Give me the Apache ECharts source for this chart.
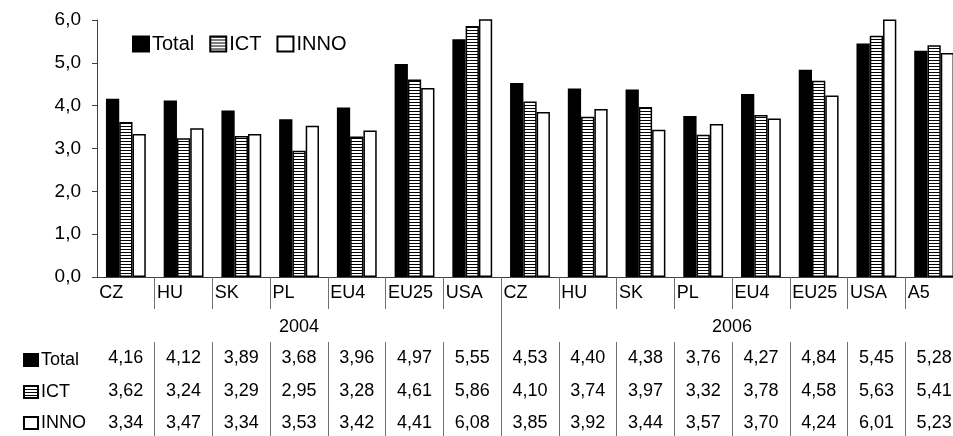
<!DOCTYPE html>
<html>
<head>
<meta charset="utf-8">
<script src="https://cdn.jsdelivr.net/npm/echarts@6/dist/echarts.min.js"></script>
<style>
  html, body { margin: 0; padding: 0; background: #fff; }
  #chart { width: 953px; height: 436px; }
</style>
</head>
<body>
<div id="chart"></div>
<script>
// data
const categories = ['CZ', 'HU', 'SK', 'PL', 'EU4', 'EU25', 'USA', 'CZ', 'HU', 'SK', 'PL', 'EU4', 'EU25', 'USA', 'A5'];
const years = ['2004', '2006'];
const yearSplitIdx = 7;
const seriesNames = ['Total', 'ICT', 'INNO'];
const totalVals = [4.16, 4.12, 3.89, 3.68, 3.96, 4.97, 5.55, 4.53, 4.40, 4.38, 3.76, 4.27, 4.84, 5.45, 5.28];
const ictVals = [3.62, 3.24, 3.29, 2.95, 3.28, 4.61, 5.86, 4.10, 3.74, 3.97, 3.32, 3.78, 4.58, 5.63, 5.41];
const innoVals = [3.34, 3.47, 3.34, 3.53, 3.42, 4.41, 6.08, 3.85, 3.92, 3.44, 3.57, 3.70, 4.24, 6.01, 5.23];

const FONT = '"Liberation Sans", Arial, sans-serif';
const fmt = (v, d) => Number(v).toFixed(d).replace('.', ',');

// year labels sit in the middle of their span of categories
const yearMid = [yearSplitIdx / 2, (yearSplitIdx + categories.length) / 2];

// horizontal stripes for ICT
const stripe = document.createElement('canvas');
stripe.width = 4;
stripe.height = 3;
const sctx = stripe.getContext('2d');
sctx.fillStyle = '#fff';
sctx.fillRect(0, 0, 4, 3);
sctx.fillStyle = '#000';
sctx.fillRect(0, 0, 4, 1);

const chart = echarts.init(document.getElementById('chart'));

// one axis for each row of the data table
function tableAxis(vals, margin, ticks) {
  return {
    type: 'category',
    data: categories,
    position: 'bottom',
    offset: 65,
    axisLine: { show: false, onZero: false },
    axisTick: { show: ticks, length: 95, interval: (i) => i > 0, lineStyle: { color: '#707070' } },
    axisLabel: {
      interval: 0, margin: margin, color: '#000', fontSize: 18, fontFamily: FONT,
      formatter: (v, i) => fmt(vals[i], 2)
    }
  };
}

function rowLegend(name, top) {
  return {
    data: [name], left: 18, top: top, icon: 'rect',
    itemWidth: 14, itemHeight: 12, itemGap: 0,
    selectedMode: false,
    textStyle: { fontSize: 18, fontFamily: FONT, color: '#000', padding: [0, 0, 0, -2] }
  };
}

const option = {
  animation: false,
  backgroundColor: '#fff',
  grid: { left: 97, right: -10, top: 20, bottom: 159, outerBoundsMode: 'none' },
  legend: [
    {
      data: seriesNames, left: 127, top: 29, icon: 'rect',
      itemWidth: 16, itemHeight: 15, itemGap: 15, selectedMode: false,
      textStyle: { fontSize: 20, fontFamily: FONT, color: '#000', padding: [0, 0, 0, -2] }
    },
    rowLegend('Total', 346),
    rowLegend('ICT', 378),
    rowLegend('INNO', 409)
  ],
  xAxis: [
    {
      type: 'category',
      data: categories,
      position: 'bottom',
      offset: 0.01,
      axisLine: { onZero: false, lineStyle: { color: '#404040', width: 1 } },
      axisTick: { show: true, length: 32, interval: (i) => i > 0, lineStyle: { color: '#707070' } },
      axisLabel: {
        interval: 0, margin: 7, color: '#000', fontSize: 18, fontFamily: FONT,
        formatter: (v) => '{a|' + v + '}',
        rich: { a: { width: 53, align: 'left', fontSize: 18, fontFamily: FONT, color: '#000' } }
      }
    },
    {
      // year row, on a 0..15 scale so the split line and labels can sit between categories
      type: 'value',
      min: 0,
      max: categories.length,
      position: 'bottom',
      offset: 0.01,
      splitLine: { show: false },
      axisLine: { show: false, onZero: false },
      axisTick: { show: true, length: 160, customValues: [yearSplitIdx], lineStyle: { color: '#707070' } },
      axisLabel: {
        customValues: yearMid,
        margin: 41, color: '#000', fontSize: 18, fontFamily: FONT,
        formatter: (v) => {
          const k = yearMid.indexOf(v);
          return k < 0 ? '' : years[k];
        }
      }
    },
    tableAxis(totalVals, 7, true),
    tableAxis(ictVals, 40, false),
    tableAxis(innoVals, 72, false)
  ],
  yAxis: {
    type: 'value',
    min: 0, max: 6, interval: 1,
    axisLine: { show: true, onZero: false, lineStyle: { color: '#404040' } },
    axisTick: { show: true, length: 5, lineStyle: { color: '#404040' } },
    splitLine: { show: false },
    axisLabel: { margin: 16, color: '#000', fontSize: 19, fontFamily: FONT, formatter: (v) => fmt(v, 1) }
  },
  series: [
    {
      name: 'Total', type: 'bar', data: totalVals,
      barGap: '0%', barCategoryGap: '31%',
      itemStyle: { color: '#000', borderColor: '#000', borderWidth: 1.5 }
    },
    {
      name: 'ICT', type: 'bar', data: ictVals,
      itemStyle: { color: { image: stripe, repeat: 'repeat' }, borderColor: '#000', borderWidth: 1.5 }
    },
    {
      name: 'INNO', type: 'bar', data: innoVals,
      itemStyle: { color: '#fff', borderColor: '#000', borderWidth: 1.5 }
    }
  ]
};

chart.setOption(option);
</script>
</body>
</html>
